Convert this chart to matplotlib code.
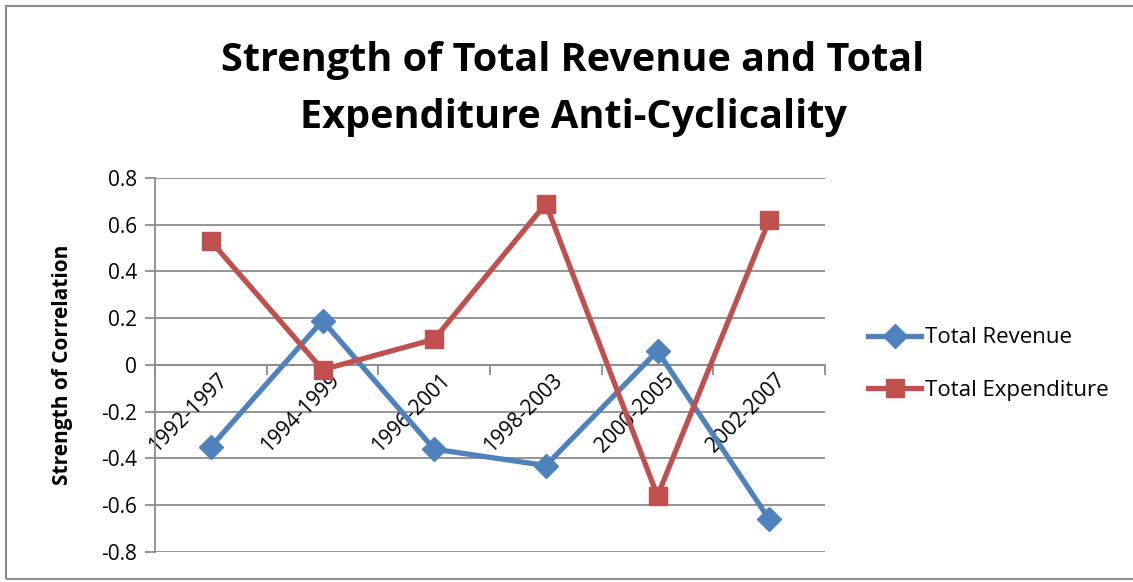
import matplotlib
matplotlib.use("Agg")
import matplotlib.pyplot as plt
from matplotlib.patches import Rectangle
import numpy as np

categories = ["1992-1997", "1994-1999", "1996-2001", "1998-2003", "2000-2005", "2002-2007"]
revenue = [-0.35, 0.19, -0.36, -0.43, 0.06, -0.66]
expenditure = [0.53, -0.02, 0.11, 0.69, -0.56, 0.62]
yticks = [-0.8, -0.6, -0.4, -0.2, 0, 0.2, 0.4, 0.6, 0.8]
ytick_labels = ["-0.8", "-0.6", "-0.4", "-0.2", "0", "0.2", "0.4", "0.6", "0.8"]

plt.rcParams['font.family'] = ['Open Sans', 'DejaVu Sans']

W, H = 1133, 582
fig = plt.figure(figsize=(W / 100, H / 100), dpi=100)
fig.patch.set_facecolor("white")

# outer chart border
fig.patches.append(Rectangle((6 / W, 3 / H), 1.2, 1 - 9 / H, transform=fig.transFigure,
                             fill=False, edgecolor="#8c8c8c", linewidth=1.5))

ax = fig.add_axes([155 / W, 1 - 552 / H, (825 - 155) / W, (552 - 178) / H])
grid_col = "#8c8c8c"
x = np.arange(len(categories))
ax.set_xlim(-0.5, len(categories) - 0.5)
ax.set_ylim(-0.8, 0.8)

for v in yticks:
    ax.axhline(v, color=grid_col, linewidth=1.3, zorder=1)

ax.plot(x, revenue, color="#4F81BD", linewidth=3.8, marker="D", markersize=12,
        label="Total Revenue", zorder=3)
ax.plot(x, expenditure, color="#C0504D", linewidth=3.8, marker="s", markersize=13,
        label="Total Expenditure", zorder=3)

for s in ["top", "right"]:
    ax.spines[s].set_visible(False)
ax.spines["left"].set_color(grid_col)
ax.spines["left"].set_linewidth(1.3)
ax.spines["bottom"].set_position(("data", 0))
ax.spines["bottom"].set_color(grid_col)
ax.spines["bottom"].set_linewidth(1.3)

ax.set_yticks(yticks)
ax.set_yticklabels(ytick_labels, fontsize=15)
ax.tick_params(axis="y", length=7, color=grid_col, width=1.3, pad=6)

ax.set_xticks(np.arange(len(categories) + 1) - 0.5)
ax.set_xticklabels([])
ax.tick_params(axis="x", which="major", length=7, color=grid_col, width=1.3, direction="out")
ax.set_xticks(x, minor=True)
ax.set_xticklabels(categories, minor=True, rotation=45, ha="right", va="top",
                   rotation_mode="anchor", fontsize=15)
ax.tick_params(axis="x", which="minor", length=0, pad=3)
for lbl in ax.get_xticklabels(minor=True):
    lbl.set_transform(lbl.get_transform() + matplotlib.transforms.ScaledTranslation(6 / 100, 0, fig.dpi_scale_trans))

ax.set_ylabel("Strength of Correlation", fontsize=15, fontweight="bold", labelpad=20)

fig.text(573 / W, 1 - 60 / H, "Strength of Total Revenue and Total", ha="center", va="center",
         fontsize=28.5, fontweight="bold")
fig.text(573 / W, 1 - 118 / H, "Expenditure Anti-Cyclicality", ha="center", va="center",
         fontsize=28.5, fontweight="bold")

leg = ax.legend(loc="center left", bbox_to_anchor=(848 / W, 1 - 364 / H),
                bbox_transform=fig.transFigure, frameon=False, fontsize=16,
                handlelength=2.4, handletextpad=0.15, labelspacing=1.4)

fig.savefig("out.png", dpi=100, facecolor="white")
